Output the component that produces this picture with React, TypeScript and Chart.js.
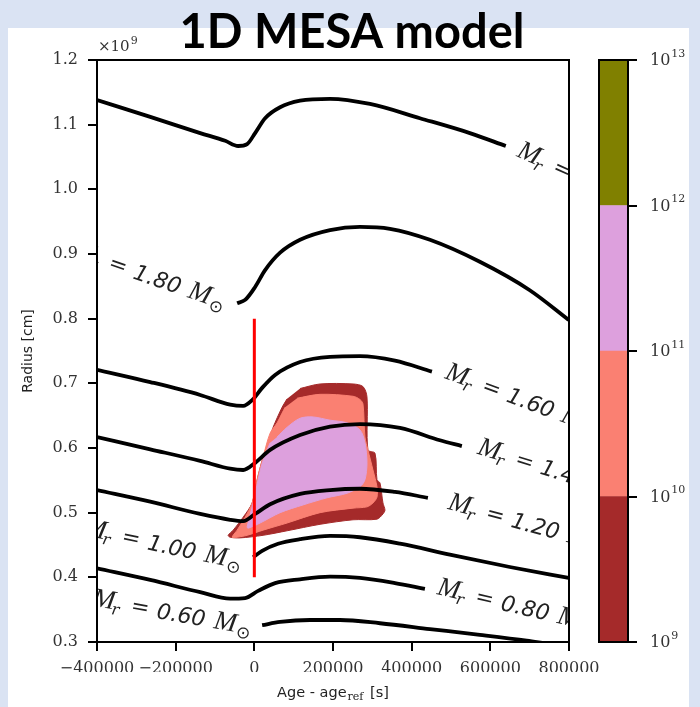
import React, { useEffect, useRef } from 'react';
import { Chart, registerables } from 'chart.js';
Chart.register(...registerables);

// x: Age - age_ref [s], y: Radius [1e9 cm]
const xTicks = [-400000, -200000, 0, 200000, 400000, 600000, 800000];
const yTicks = [0.3, 0.4, 0.5, 0.6, 0.7, 0.8, 0.9, 1.0, 1.1, 1.2];

// Mass-coordinate contour lines
const m200X = [-400000, -264600, -137600, -74100, -41100, -18300, 2000, 27400, 65500, 116300, 192500, 294000, 421000, 547900, 639300];
const m200Y = [1.138, 1.112, 1.087, 1.075, 1.067, 1.070, 1.087, 1.110, 1.127, 1.137, 1.140, 1.132, 1.110, 1.087, 1.067];
const m180X = [-43700, -23400, 2000, 27400, 65500, 116300, 192500, 268600, 344800, 446400, 573300, 700300, 799300];
const m180Y = [0.824, 0.829, 0.849, 0.875, 0.902, 0.922, 0.937, 0.942, 0.939, 0.922, 0.888, 0.844, 0.798];
const m160X = [-400000, -264600, -137600, -61400, -28400, -5600, 19800, 52800, 116300, 192500, 268600, 357500, 451500];
const m160Y = [0.721, 0.702, 0.682, 0.667, 0.665, 0.674, 0.693, 0.713, 0.733, 0.741, 0.742, 0.735, 0.718];
const m140X = [-400000, -264600, -137600, -61400, -28400, 2000, 40100, 116300, 192500, 268600, 370200, 471800, 527600];
const m140Y = [0.617, 0.598, 0.580, 0.568, 0.566, 0.577, 0.597, 0.620, 0.633, 0.637, 0.631, 0.612, 0.603];
const m120X = [-400000, -264600, -137600, -61400, -28400, 2000, 40100, 116300, 192500, 268600, 357500, 441300];
const m120Y = [0.535, 0.517, 0.498, 0.489, 0.487, 0.498, 0.513, 0.529, 0.535, 0.537, 0.532, 0.523];
const m100X = [-3000, 19800, 60400, 116300, 192500, 268600, 370200, 497100, 649500, 799300];
const m100Y = [0.431, 0.441, 0.452, 0.459, 0.464, 0.462, 0.452, 0.435, 0.416, 0.399];
const m080X = [-400000, -264600, -137600, -61400, -23400, 9600, 52800, 116300, 192500, 268600, 357500, 433700];
const m080Y = [0.414, 0.396, 0.377, 0.367, 0.368, 0.379, 0.391, 0.397, 0.401, 0.399, 0.391, 0.382];
const m060X = [19800, 65500, 141700, 217900, 319400, 446400, 573300, 692600, 738300];
const m060Y = [0.326, 0.331, 0.334, 0.334, 0.329, 0.320, 0.311, 0.302, 0.298];

// Reference-age marker
const refX = [0, 0];
const refY = [0.8, 0.4];

// Filled contour regions (1e9-1e10, 1e10-1e11, 1e11-1e12)
const bandBrownX = [116300, 167100, 250900, 276200, 286400, 288900, 306700, 311800, 319400, 327000, 332100, 327000, 311800, 250900, 167100, 83300, 22300, -36100, -61400, -66500, -53800, -28400, -5600, 7100, 22300, 40100, 47700, 70600, 83300];
const bandBrownY = [0.692, 0.699, 0.699, 0.695, 0.679, 0.597, 0.592, 0.551, 0.546, 0.515, 0.504, 0.498, 0.490, 0.489, 0.482, 0.472, 0.465, 0.461, 0.462, 0.465, 0.473, 0.493, 0.515, 0.551, 0.586, 0.617, 0.632, 0.663, 0.676];
const bandSalmonX = [108700, 167100, 250900, 268600, 276200, 281300, 288900, 301600, 311800, 311800, 301600, 286400, 250900, 167100, 83300, 22300, -18300, -43700, -56400, -43700, -23400, -5600, 7100, 22300, 40100, 57900, 70600, 78200];
const bandSalmonY = [0.677, 0.683, 0.680, 0.675, 0.668, 0.617, 0.597, 0.566, 0.540, 0.524, 0.515, 0.509, 0.507, 0.500, 0.484, 0.473, 0.465, 0.462, 0.462, 0.473, 0.493, 0.515, 0.551, 0.586, 0.623, 0.639, 0.654, 0.663];
const bandPlumX = [57900, 83300, 116300, 149300, 192500, 235600, 268600, 281300, 286400, 281300, 268600, 235600, 184900, 123900, 65500, 14700, -15700, -18300, -3000, 9600, 22300, 40100];
const bandPlumY = [0.617, 0.632, 0.646, 0.648, 0.643, 0.639, 0.628, 0.608, 0.577, 0.551, 0.540, 0.530, 0.523, 0.512, 0.500, 0.484, 0.476, 0.478, 0.515, 0.551, 0.581, 0.608];

// Contour labels (anchored at the "=" sign)
const labelValues = ['2.00', '1.80', '1.60', '1.40', '1.20', '1.00', '0.80', '0.60'];
const labelX = [784000, -345800, 603700, 687600, 613000, -312800, 586000, -289900];
const labelY = [1.031, 0.883, 0.693, 0.580, 0.497, 0.461, 0.368, 0.354];
const labelAngle = [24, 19, 20, 17, 15, 12, 13, 10];

// Colour bar
const cbLow = [1e9, 1e10, 1e11, 1e12];
const cbHigh = [1e10, 1e11, 1e12, 1e13];
const cbColors = ['#a52a2a', '#fa8072', '#dda0dd', '#808000'];
const cbTicks = [1e9, 1e10, 1e11, 1e12, 1e13];

const toPts = (xs: number[], ys: number[]) => xs.map((x, i) => ({ x, y: ys[i] }));

const lineDs = (xs: number[], ys: number[]) => ({
  data: toPts(xs, ys), showLine: true, borderColor: '#000', borderWidth: 3.8,
  pointRadius: 0, fill: false, cubicInterpolationMode: 'monotone', order: 1,
});
const polyDs = (xs: number[], ys: number[], color: string, order: number) => ({
  data: toPts(xs, ys), showLine: true, borderColor: color, backgroundColor: color,
  borderWidth: 1, pointRadius: 0, fill: 'shape', tension: 0.3, order,
});

function drawLabel(ctx: CanvasRenderingContext2D, px: number, py: number, ang: number, value: string) {
  ctx.save();
  ctx.translate(px, py);
  ctx.rotate((ang * Math.PI) / 180);
  ctx.fillStyle = '#222';
  ctx.textBaseline = 'alphabetic';
  const base = 7;
  ctx.font = '22px "DejaVu Serif"';
  ctx.textAlign = 'center';
  ctx.fillText('=', 0, base);
  const eqHalf = ctx.measureText('=').width / 2;
  ctx.textAlign = 'left';
  ctx.font = 'italic 16px "DejaVu Serif"';
  const rW = ctx.measureText('r').width;
  ctx.font = 'italic 27px "Liberation Serif"';
  const mW = ctx.measureText('M').width;
  const rLeft = -eqHalf - 11 - rW;
  ctx.fillText('M', rLeft - mW + 2, base);
  ctx.font = 'italic 16px "DejaVu Serif"';
  ctx.fillText('r', rLeft, base + 5);
  ctx.font = 'italic 22px "DejaVu Sans"';
  let x = eqHalf + 8;
  ctx.fillText(value, x, base + 1);
  x += ctx.measureText(value).width + 9;
  ctx.font = 'italic 27px "Liberation Serif"';
  ctx.fillText('M', x, base + 1);
  x += ctx.measureText('M').width;
  ctx.font = '17px "DejaVu Sans"';
  ctx.fillText('\u2299', x + 1, base + 6);
  ctx.restore();
}

const framePlugin = {
  id: 'frame',
  afterDraw(chart: any) {
    const { ctx, chartArea: a } = chart;
    ctx.save();
    ctx.strokeStyle = '#000';
    ctx.lineWidth = 2;
    ctx.strokeRect(a.left, a.top, a.right - a.left, a.bottom - a.top);
    ctx.restore();
  },
};

const labelPlugin = {
  id: 'contourLabels',
  afterDatasetsDraw(chart: any) {
    const { ctx, chartArea: a, scales } = chart;
    ctx.save();
    ctx.beginPath();
    ctx.rect(a.left, a.top, a.right - a.left, a.bottom - a.top);
    ctx.clip();
    labelValues.forEach((v, i) => {
      drawLabel(ctx, scales.x.getPixelForValue(labelX[i]), scales.y.getPixelForValue(labelY[i]), labelAngle[i], v);
    });
    ctx.restore();
  },
};

const textPlugin = {
  id: 'texts',
  afterDraw(chart: any) {
    const { ctx, chartArea: a } = chart;
    ctx.save();
    // title
    ctx.fillStyle = '#000';
    ctx.font = 'bold 47px Lato';
    ctx.textAlign = 'center';
    ctx.textBaseline = 'alphabetic';
    ctx.fillText('1D MESA model', 352, 48);
    // multiplier
    ctx.fillStyle = '#333';
    ctx.textAlign = 'left';
    ctx.font = '15px "DejaVu Serif"';
    ctx.fillText('\u00d710', a.left + 1, 51);
    const w = ctx.measureText('\u00d710').width;
    ctx.font = '11px "DejaVu Serif"';
    ctx.fillText('9', a.left + 1 + w + 1, 44);
    // y title
    ctx.fillStyle = '#222';
    ctx.save();
    ctx.translate(28, (a.top + a.bottom) / 2);
    ctx.rotate(-Math.PI / 2);
    ctx.font = '14px "DejaVu Sans"';
    ctx.textAlign = 'center';
    ctx.textBaseline = 'middle';
    ctx.fillText('Radius [cm]', 0, 0);
    ctx.restore();
    // x title
    ctx.textBaseline = 'alphabetic';
    ctx.font = '14.5px "DejaVu Sans"';
    const p1 = 'Age - age';
    const w1 = ctx.measureText(p1).width;
    ctx.font = '11px "DejaVu Serif"';
    const w2 = ctx.measureText('ref').width;
    ctx.font = '14.5px "DejaVu Sans"';
    const p3 = ' [s]';
    const w3 = ctx.measureText(p3).width;
    let x = 333 - (w1 + w2 + 3 + w3) / 2;
    ctx.fillText(p1, x, 697);
    x += w1 + 1;
    ctx.font = '11px "DejaVu Serif"';
    ctx.fillText('ref', x, 700);
    x += w2 + 2;
    ctx.font = '14.5px "DejaVu Sans"';
    ctx.fillText(p3, x, 697);
    ctx.restore();
  },
};

const cbPlugin = {
  id: 'cbText',
  afterDraw(chart: any) {
    const { ctx, chartArea: a, scales } = chart;
    ctx.save();
    ctx.strokeStyle = '#000';
    ctx.lineWidth = 2;
    ctx.strokeRect(a.left, a.top, a.right - a.left, a.bottom - a.top);
    ctx.fillStyle = '#333';
    ctx.textAlign = 'left';
    ctx.textBaseline = 'middle';
    cbTicks.forEach((v) => {
      const y = scales.y.getPixelForValue(v);
      ctx.font = '16px "DejaVu Serif"';
      ctx.fillText('10', a.right + 22, y + 1);
      const w = ctx.measureText('10').width;
      ctx.font = '11px "DejaVu Serif"';
      ctx.fillText(String(Math.round(Math.log10(v))), a.right + 22 + w + 1, y - 6);
    });
    ctx.restore();
  },
};

export default function App() {
  const mainRef = useRef<HTMLCanvasElement>(null);
  const cbRef = useRef<HTMLCanvasElement>(null);

  useEffect(() => {
    const tickGrid = { drawOnChartArea: false, drawTicks: true, tickLength: 9, lineWidth: 2, color: '#000' };
    const border = { display: true, color: '#000', width: 2 };
    const tickFont = { family: '"DejaVu Serif"', size: 16 };
    const main = new Chart(mainRef.current as HTMLCanvasElement, {
      type: 'scatter',
      data: {
        datasets: [
          { data: toPts(refX, refY), showLine: true, borderColor: '#ff0000', borderWidth: 3, pointRadius: 0, order: 0 },
          lineDs(m200X, m200Y),
          lineDs(m180X, m180Y),
          lineDs(m160X, m160Y),
          lineDs(m140X, m140Y),
          lineDs(m120X, m120Y),
          lineDs(m100X, m100Y),
          lineDs(m080X, m080Y),
          lineDs(m060X, m060Y),
          polyDs(bandPlumX, bandPlumY, '#dda0dd', 2),
          polyDs(bandSalmonX, bandSalmonY, '#fa8072', 3),
          polyDs(bandBrownX, bandBrownY, '#a52a2a', 4),
        ] as any,
      },
      options: {
        responsive: false,
        animation: false,
        devicePixelRatio: 1,
        events: [],
        layout: { padding: { left: 37, right: 131, top: 60, bottom: 35 } },
        plugins: { legend: { display: false }, tooltip: { enabled: false } },
        scales: {
          x: {
            type: 'linear', min: -400000, max: 800000,
            afterBuildTicks: (s: any) => { s.ticks = xTicks.map((v) => ({ value: v })); },
            afterFit: (s: any) => { s.height = 30; },
            ticks: {
              font: tickFont, color: '#333', padding: 8, maxRotation: 0, autoSkip: false,
              callback: (v: any) => (v < 0 ? '\u2212' + Math.abs(v) : String(v)),
            },
            grid: tickGrid, border,
          },
          y: {
            type: 'linear', min: 0.3, max: 1.2,
            afterBuildTicks: (s: any) => { s.ticks = yTicks.map((v) => ({ value: v })); },
            afterFit: (s: any) => { s.width = 60; },
            ticks: { font: tickFont, color: '#333', padding: 10, autoSkip: false, callback: (v: any) => Number(v).toFixed(1) },
            grid: tickGrid, border,
          },
        } as any,
      },
      plugins: [framePlugin, labelPlugin, textPlugin],
    });

    const cb = new Chart(cbRef.current as HTMLCanvasElement, {
      type: 'bar',
      data: {
        labels: ['c'],
        datasets: cbLow.map((lo, i) => ({
          data: [[lo, cbHigh[i]]], backgroundColor: cbColors[i], borderWidth: 0,
          barPercentage: 1, categoryPercentage: 1, grouped: false,
        })) as any,
      },
      options: {
        responsive: false,
        animation: false,
        devicePixelRatio: 1,
        events: [],
        layout: { padding: { left: 39, right: 0, top: 60, bottom: 65 } },
        plugins: { legend: { display: false }, tooltip: { enabled: false } },
        scales: {
          x: { display: false },
          y: {
            type: 'logarithmic', position: 'right', min: 1e9, max: 1e13,
            afterBuildTicks: (s: any) => { s.ticks = cbTicks.map((v) => ({ value: v })); },
            afterFit: (s: any) => { s.width = 72; },
            ticks: { callback: () => '', font: tickFont },
            grid: tickGrid, border,
          },
        } as any,
      },
      plugins: [cbPlugin],
    });

    return () => { main.destroy(); cb.destroy(); };
  }, []);

  return (
    <div style={{ position: 'fixed', left: 0, top: 0, width: 700, height: 707, background: '#dae3f3', overflow: 'hidden' }}>
      <div style={{ position: 'absolute', left: 8, top: 28, width: 681, height: 679, background: '#ffffff' }} />
      <canvas ref={mainRef} width={700} height={707} style={{ position: 'absolute', left: 0, top: 0, width: 700, height: 707 }} />
      <canvas ref={cbRef} width={140} height={707} style={{ position: 'absolute', left: 560, top: 0, width: 140, height: 707 }} />
    </div>
  );
}
